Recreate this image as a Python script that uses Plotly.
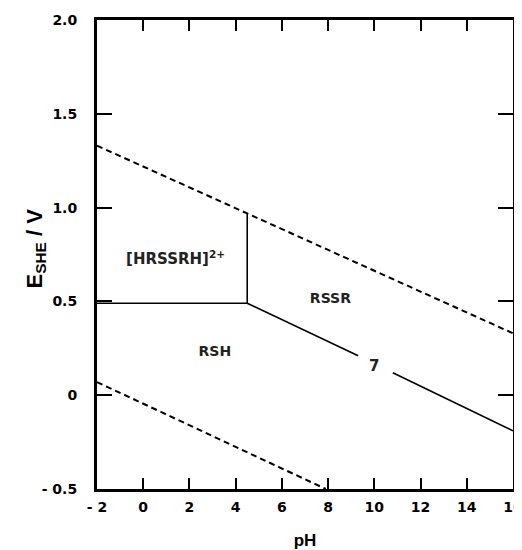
import plotly.graph_objects as go

# Data
upper_water_ph = [-2, 16]
upper_water_e = [1.33, 0.33]
lower_water_ph = [-2, 7.9]
lower_water_e = [0.07, -0.5]
horiz_ph = [-2, 4.5]
horiz_e = [0.49, 0.49]
vert_ph = [4.5, 4.5]
vert_e = [0.49, 0.97]
slope_a_ph = [4.5, 9.3]
slope_a_e = [0.49, 0.21]
slope_b_ph = [10.8, 16]
slope_b_e = [0.12, -0.19]

labels_text = ["[HRSSRH]<sup>2+</sup>", "RSSR", "RSH", "7"]
labels_ph = [1.4, 8.1, 3.1, 10.0]
labels_e = [0.72, 0.51, 0.23, 0.15]
labels_size = [15, 14, 14, 15]

x_ticks = [-2, 0, 2, 4, 6, 8, 10, 12, 14, 16]
x_ticktext = ["- 2", "0", "2", "4", "6", "8", "10", "12", "14", "16"]
y_ticks = [-0.5, 0, 0.5, 1.0, 1.5, 2.0]
y_ticktext = ["- 0.5", "0", "0.5", "1.0", "1.5", "2.0"]

fig = go.Figure()
dash_style = dict(color="black", width=2, dash="6px,4px")
solid_style = dict(color="black", width=1.6)
fig.add_trace(go.Scatter(x=upper_water_ph, y=upper_water_e, mode="lines", line=dash_style))
fig.add_trace(go.Scatter(x=lower_water_ph, y=lower_water_e, mode="lines", line=dash_style))
for xs, ys in [(horiz_ph, horiz_e), (vert_ph, vert_e), (slope_a_ph, slope_a_e), (slope_b_ph, slope_b_e)]:
    fig.add_trace(go.Scatter(x=xs, y=ys, mode="lines", line=solid_style))

fig.add_trace(go.Scatter(
    x=labels_ph, y=labels_e, text=labels_text, mode="text",
    textfont=dict(family="DejaVu Sans", size=labels_size, color="#222", weight="bold"),
))

tickfont = dict(family="DejaVu Sans", size=14, color="black", weight="bold")
# page body has an 8px default margin, so figure margins are offset by 8px
fig.update_layout(
    width=522, height=550,
    margin=dict(l=89, r=17, t=12, b=69),
    paper_bgcolor="white", plot_bgcolor="white",
    showlegend=False,
    xaxis=dict(
        range=[-2, 16], tickvals=x_ticks, ticktext=x_ticktext, automargin=False,
        ticks="inside", ticklen=11, tickwidth=2, tickcolor="black",
        showline=True, linewidth=3, linecolor="black", mirror="ticks",
        showgrid=False, zeroline=False, tickfont=tickfont, ticklabelstandoff=3,
        title=dict(text="pH", font=dict(family="Liberation Sans", size=17, color="black", weight="bold"), standoff=21),
    ),
    yaxis=dict(
        range=[-0.5, 2.0], tickvals=y_ticks, ticktext=y_ticktext, automargin=False,
        ticks="inside", ticklen=15, tickwidth=2, tickcolor="black",
        showline=True, linewidth=3, linecolor="black", mirror="ticks",
        showgrid=False, zeroline=False, tickfont=tickfont, ticklabelstandoff=14,
    ),
    annotations=[dict(
        text="E<sub>SHE</sub> / V", textangle=-90, showarrow=False,
        xref="paper", yref="paper", x=0, y=0.5, xshift=-62, yshift=6,
        xanchor="center", yanchor="middle",
        font=dict(family="Liberation Sans", size=22, color="black", weight="bold"),
    )],
)

fig.write_html("out.html")
